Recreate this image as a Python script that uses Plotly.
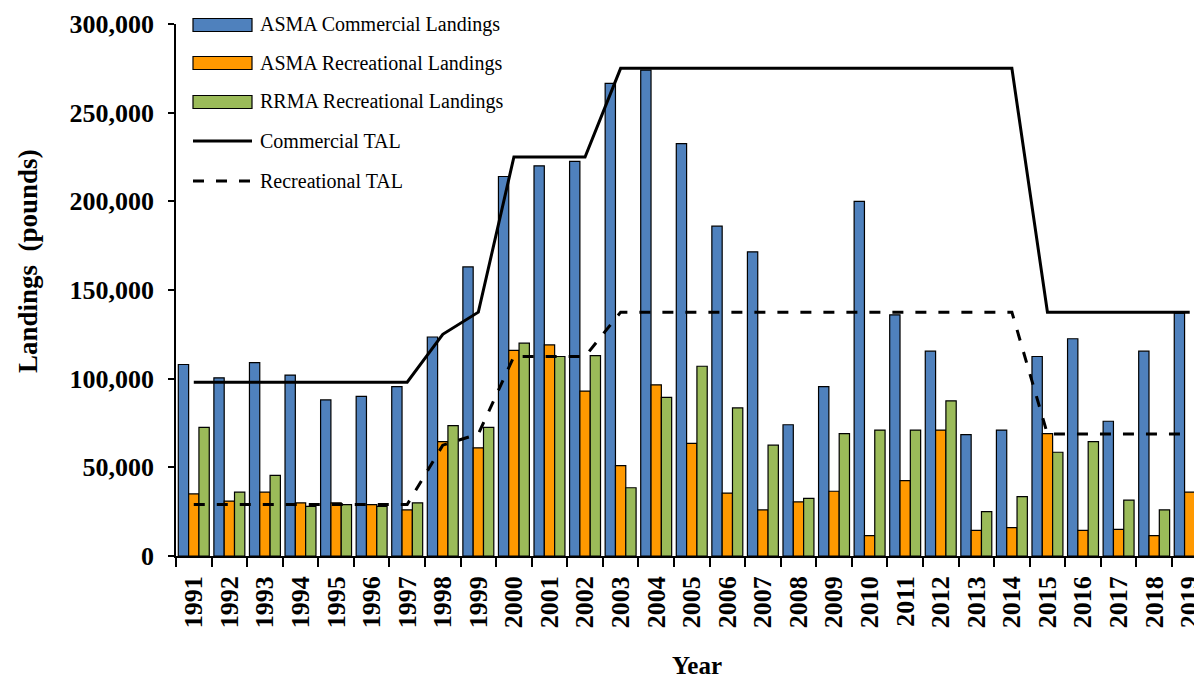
import plotly.graph_objects as go

years = [str(y) for y in range(1991, 2020)]

asma_commercial = [108000, 100500, 109000, 102000, 88000, 90000, 95500, 123500, 163000, 214000,
                   220000, 222500, 266500, 274000, 232500, 186000, 171500, 74000, 95500, 200000,
                   136000, 115500, 68500, 71000, 112500, 122500, 76000, 115500, 137000]
asma_recreational = [35000, 31000, 36000, 30000, 30000, 29000, 26000, 64500, 61000, 116000,
                     119000, 93000, 51000, 96500, 63500, 35500, 26000, 30500, 36500, 11500,
                     42500, 71000, 14500, 16000, 69000, 14500, 15000, 11500, 36000]
rrma_recreational = [72500, 36000, 45500, 28000, 29000, 28000, 30000, 73500, 72500, 120000,
                     112500, 113000, 38500, 89500, 107000, 83500, 62500, 32500, 69000, 71000,
                     71000, 87500, 25000, 33500, 58500, 64500, 31500, 26000, 53000]
commercial_tal = [98000, 98000, 98000, 98000, 98000, 98000, 98000, 125000, 137500, 225000,
                  225000, 225000, 275000, 275000, 275000, 275000, 275000, 275000, 275000, 275000,
                  275000, 275000, 275000, 275000, 137500, 137500, 137500, 137500, 137500]
recreational_tal = [29000, 29000, 29000, 29000, 29000, 29000, 29000, 62500, 68750, 112500,
                    112500, 112500, 137500, 137500, 137500, 137500, 137500, 137500, 137500, 137500,
                    137500, 137500, 137500, 137500, 68750, 68750, 68750, 68750, 68750]

y_ticks = [0, 50000, 100000, 150000, 200000, 250000, 300000]
y_tick_labels = ["0", "50,000", "100,000", "150,000", "200,000", "250,000", "300,000"]

FONT = "Liberation Serif, Times New Roman, serif"

bar_names = ["ASMA Commercial Landings", "ASMA Recreational Landings", "RRMA Recreational Landings"]
bar_values = [asma_commercial, asma_recreational, rrma_recreational]
bar_colors = ["#4F81BD", "#FF9900", "#9BBB59"]
line_names = ["Commercial TAL", "Recreational TAL"]
line_values = [commercial_tal, recreational_tal]
line_dashes = ["solid", "11px,12px"]

fig = go.Figure()
for name, vals, col in zip(bar_names, bar_values, bar_colors):
    fig.add_trace(go.Bar(x=years, y=vals, name=name, showlegend=False,
                         marker=dict(color=col, line=dict(color="black", width=1.2))))
for name, vals, dash in zip(line_names, line_values, line_dashes):
    fig.add_trace(go.Scatter(x=years, y=vals, name=name, mode="lines", showlegend=False,
                             line=dict(color="black", width=3, dash=dash)))

# Plot area geometry in pixels (for legend placement in paper coordinates)
L, R, T, B = 176, 1194, 24, 556
def px(xp):
    return (xp - L) / (R - L)
def py(yp):
    return (B - yp) / (B - T)

shapes = []
annotations = []
row_y = [25, 63, 102, 141, 181]
sym_x0, sym_x1, text_x = 193, 252, 258
entries = ([(n, "bar", c) for n, c in zip(bar_names, bar_colors)] +
           [(n, "line", d) for n, d in zip(line_names, line_dashes)])
for (name, kind, style), yc in zip(entries, row_y):
    if kind == "bar":
        shapes.append(dict(type="rect", xref="paper", yref="paper",
                           x0=px(sym_x0), x1=px(sym_x1), y0=py(yc + 6.5), y1=py(yc - 6.5),
                           fillcolor=style, line=dict(color="black", width=1.2)))
    else:
        shapes.append(dict(type="line", xref="paper", yref="paper",
                           x0=px(sym_x0), x1=px(sym_x1), y0=py(yc), y1=py(yc),
                           line=dict(color="black", width=3, dash=style)))
    annotations.append(dict(text=name, xref="paper", yref="paper", x=px(text_x), y=py(yc),
                            xanchor="left", yanchor="middle", showarrow=False,
                            font=dict(family=FONT, size=20, color="black")))

annotations += [
    dict(text="Landings  (pounds)", xref="paper", yref="paper", x=px(28), y=py(261),
         xanchor="center", yanchor="middle", textangle=-90, showarrow=False,
         font=dict(family=FONT, size=27, color="black", weight="bold")),
    dict(text="Year", xref="paper", yref="paper", x=px(697), y=py(665),
         xanchor="center", yanchor="middle", showarrow=False,
         font=dict(family=FONT, size=25, color="black", weight="bold")),
]

fig.update_layout(
    width=1194, height=679,
    margin=dict(l=L, r=0, t=T, b=679 - B, autoexpand=False),
    plot_bgcolor="white", paper_bgcolor="white",
    barmode="group", bargap=0.13, bargroupgap=0,
    font=dict(family=FONT, color="black"),
    showlegend=False,
    xaxis=dict(type="category", range=[-0.5, 28.12], showline=True, linecolor="black",
               linewidth=1.5, ticks="outside", tickson="boundaries", ticklen=9,
               tickcolor="black", tickwidth=1.5, tickangle=-90, automargin=False,
               ticklabelstandoff=8,
               tickfont=dict(family=FONT, size=26, color="black", weight="bold"),
               showgrid=False, zeroline=False),
    yaxis=dict(range=[0, 300000], tickvals=y_ticks, ticktext=y_tick_labels,
               showline=True, linecolor="black", linewidth=1.5, ticks="outside",
               ticklen=6, tickcolor="black", tickwidth=1.5, automargin=False,
               ticklabelstandoff=9,
               tickfont=dict(family=FONT, size=26, color="black", weight="bold"),
               showgrid=False, zeroline=False),
    shapes=shapes,
    annotations=annotations,
)

fig.write_html("out.html", config={"displayModeBar": False},
               post_script="document.body.style.margin='0';document.body.style.overflow='hidden';")
